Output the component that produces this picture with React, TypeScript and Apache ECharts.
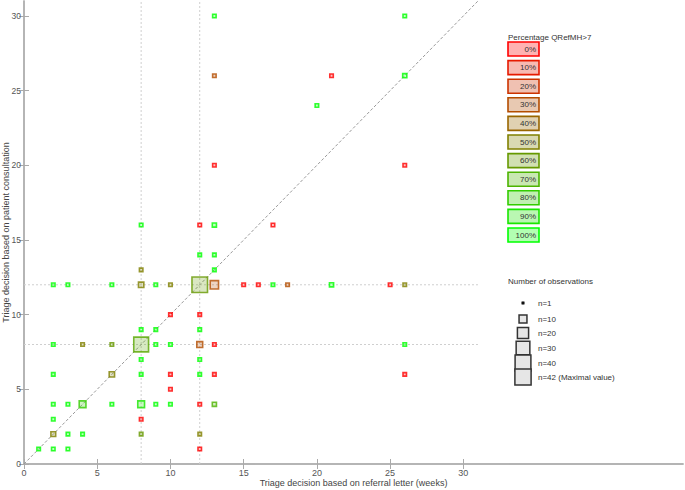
import React, { useEffect, useRef } from "react";
import * as echarts from "echarts";

// [referral letter weeks, consultation weeks, number of observations, share QRefMH>7]
const observations: [number, number, number, number][] = [
  [13, 30, 1, 1], [26, 30, 1, 1],
  [13, 26, 2, 0.3], [21, 26, 1, 0], [26, 26, 3, 1],
  [20, 24, 1, 1],
  [13, 20, 2, 0], [26, 20, 1, 0],
  [8, 16, 1, 1], [12, 16, 1, 0], [13, 16, 3, 1], [17, 16, 1, 0],
  [12, 14, 1, 1], [13, 14, 1, 1],
  [8, 13, 1, 0.5], [13, 13, 1, 1],
  [2, 12, 1, 1], [3, 12, 1, 1], [6, 12, 1, 1], [8, 12, 5, 0.5], [9, 12, 1, 1],
  [10, 12, 2, 0.5], [12, 12, 42, 0.6], [13, 12, 12, 0.3], [15, 12, 1, 0],
  [16, 12, 1, 0], [17, 12, 2, 1], [18, 12, 2, 0.3], [21, 12, 3, 1],
  [25, 12, 1, 0], [26, 12, 2, 0.5],
  [10, 10, 1, 0], [12, 10, 1, 0],
  [8, 9, 1, 1], [9, 9, 1, 1], [12, 9, 1, 1],
  [2, 8, 2, 1], [4, 8, 2, 0.5], [6, 8, 2, 0.6], [8, 8, 38, 0.65], [9, 8, 1, 1],
  [10, 8, 1, 1], [12, 8, 6, 0.3], [13, 8, 1, 0], [26, 8, 1, 1],
  [8, 7, 1, 1], [12, 7, 1, 1],
  [2, 6, 1, 1], [6, 6, 5, 0.5], [8, 6, 1, 1], [10, 6, 1, 0], [12, 6, 1, 1],
  [13, 6, 2, 0], [26, 6, 1, 0],
  [10, 5, 1, 0],
  [2, 4, 1, 1], [3, 4, 1, 1], [4, 4, 8, 0.8], [6, 4, 1, 1], [8, 4, 8, 0.9],
  [9, 4, 1, 1], [10, 4, 1, 1], [12, 4, 1, 0], [13, 4, 3, 0.7],
  [2, 3, 1, 1], [8, 3, 1, 0],
  [2, 2, 4, 0.5], [3, 2, 1, 1], [4, 2, 1, 1], [8, 2, 2, 0.6], [12, 2, 1, 0.5],
  [1, 1, 2, 1], [2, 1, 1, 1], [3, 1, 1, 1], [12, 1, 1, 0],
];

const pctLevels = [0, 10, 20, 30, 40, 50, 60, 70, 80, 90, 100];
const sizeLegendN = [1, 10, 20, 30, 40, 42];
const sizeLegendLabels = ["n=1", "n=10", "n=20", "n=30", "n=40", "n=42 (Maximal value)"];
const xTickValues = [0, 5, 10, 15, 20, 25, 30];
const yTickValues = [0, 5, 10, 15, 20, 25, 30];
const refVertical = [8, 12];
const refHorizontal = [8, 12];
const refExtent = 31;

const FONT = "Liberation Sans, Arial, sans-serif";

function pctColor(p: number, a = 1) {
  const r = Math.round(255 * (1 - p));
  const g = Math.round(255 * p);
  return `rgba(${r},${g},0,${a})`;
}
function markerSize(n: number) {
  return Math.max(3.5, 2.4 * Math.sqrt(n));
}

export default function App() {
  const ref = useRef<HTMLDivElement>(null);
  useEffect(() => {
    if (!ref.current) return;
    const chart = echarts.init(ref.current, undefined, { renderer: "svg" });

    const axisLineStyle = { color: "#b0b0b0", width: 1.5 };
    const axisBase = {
      axisLine: { show: true, lineStyle: axisLineStyle },
      axisTick: { show: true, inside: true, length: 5, lineStyle: { color: "#aaaaaa", width: 1 } },
      splitLine: { show: false },
    };

    const refLineStyle = { color: "#cfcfcf", width: 1, type: [2, 2] as any };
    const refSeries: any[] = [];
    refVertical.forEach((v) =>
      refSeries.push({
        type: "line", data: [[v, 0], [v, refExtent]], symbol: "none", silent: true,
        lineStyle: refLineStyle, z: 1,
      })
    );
    refHorizontal.forEach((v) =>
      refSeries.push({
        type: "line", data: [[0, v], [refExtent, v]], symbol: "none", silent: true,
        lineStyle: refLineStyle, z: 1,
      })
    );
    refSeries.push({
      type: "line", data: [[0, 0], [refExtent, refExtent]], symbol: "none", silent: true,
      lineStyle: { color: "#999999", width: 1, type: [3, 2] }, z: 1,
    });

    const sorted = [...observations].sort((a, b) => b[2] - a[2]);
    const scatterData = sorted.map(([x, y, n, p]) => ({
      value: [x, y],
      symbolSize: markerSize(n),
      itemStyle: { color: pctColor(p, 0.3), borderColor: pctColor(p, 1), borderWidth: 1.6 },
    }));

    const graphics: any[] = [];
    graphics.push({
      type: "text", left: 508, top: 33,
      style: { text: "Percentage QRefMH>7", font: `8px ${FONT}`, fill: "#333" },
    });
    pctLevels.forEach((lv, i) => {
      const cy = 49 + i * 18.6;
      graphics.push({
        type: "rect", shape: { x: 508, y: cy - 7, width: 31, height: 14 },
        style: { fill: pctColor(lv / 100, 0.3), stroke: pctColor(lv / 100, 1), lineWidth: 1.6 },
      });
      graphics.push({
        type: "text", x: 536, y: cy,
        style: { text: `${lv}%`, font: `8px ${FONT}`, fill: "#333", align: "right", verticalAlign: "middle" },
      });
    });
    graphics.push({
      type: "text", left: 508, top: 277,
      style: { text: "Number of observations", font: `8px ${FONT}`, fill: "#333" },
    });
    const sizeY = [303, 319, 333, 348, 363, 377];
    sizeLegendN.forEach((n, i) => {
      const s = 2.5 * Math.sqrt(n);
      const cy = sizeY[i];
      graphics.push({
        type: "rect", shape: { x: 523 - s / 2, y: cy - s / 2, width: s, height: s },
        style: n === 1
          ? { fill: "#111", stroke: "#111", lineWidth: 0.5 }
          : { fill: "#e6e6e6", stroke: "#333", lineWidth: 1.5 },
      });
      graphics.push({
        type: "text", x: 538, y: cy,
        style: { text: sizeLegendLabels[i], font: `8px ${FONT}`, fill: "#333", verticalAlign: "middle" },
      });
    });

    chart.setOption({
      animation: false,
      textStyle: { fontFamily: FONT },
      grid: { left: 24, right: 2, top: 1, bottom: 26, containLabel: false, outerBoundsMode: "none" },
      xAxis: [
        {
          ...axisBase, type: "value", min: 0, max: 45, interval: 5, position: "bottom",
          name: "Triage decision based on referral letter (weeks)", nameLocation: "middle", nameGap: 14,
          nameMoveOverlap: false,
          nameTextStyle: { fontSize: 9, color: "#444", fontFamily: FONT },
          axisTick: { ...axisBase.axisTick, customValues: xTickValues },
          axisLabel: { customValues: xTickValues, fontSize: 9, color: "#555", margin: 4, fontFamily: FONT },
        },
        {
          ...axisBase, type: "value", min: 0, max: 45, interval: 5, position: "top",
          axisTick: { ...axisBase.axisTick, customValues: xTickValues },
          axisLabel: { show: false },
        },
      ],
      yAxis: [
        {
          ...axisBase, type: "value", min: 0, max: 31, position: "left",
          name: "Triage decision based on patient consultation", nameLocation: "middle", nameGap: 14,
          nameMoveOverlap: false,
          nameTextStyle: { fontSize: 9, color: "#444", fontFamily: FONT },
          axisTick: { ...axisBase.axisTick, customValues: yTickValues },
          axisLabel: { customValues: yTickValues, fontSize: 8.5, color: "#555", margin: 3, fontFamily: FONT },
        },
        {
          ...axisBase, type: "value", min: 0, max: 31, position: "right",
          axisTick: { ...axisBase.axisTick, customValues: yTickValues },
          axisLabel: { show: false },
        },
      ],
      series: [
        ...refSeries,
        { type: "scatter", symbol: "rect", data: scatterData, z: 3, silent: true },
      ],
      graphic: graphics,
    });
    return () => chart.dispose();
  }, []);
  return <div ref={ref} style={{ width: 685, height: 490, position: "absolute", left: 0, top: 0 }} />;
}
